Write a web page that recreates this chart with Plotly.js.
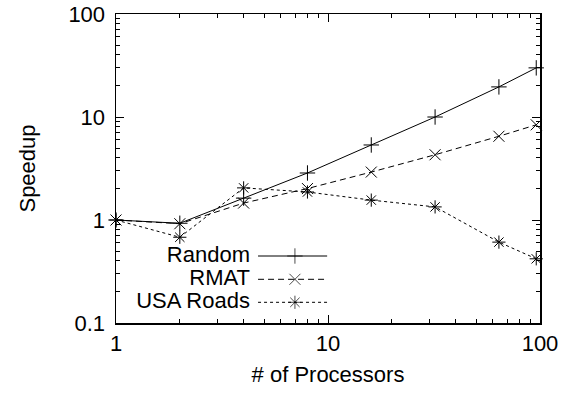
<!DOCTYPE html>
<html>
<head>
<meta charset="utf-8">
<script src="https://cdn.plot.ly/plotly-3.0.1.min.js"></script>
<style>html,body{margin:0;padding:0;background:#fff}#chart{width:566px;height:395px}</style>
</head>
<body>
<div id="chart"></div>
<script>
const processors = [1, 2, 4, 8, 16, 32, 64, 96];
const randomSpeedup = [1, 0.93, 1.63, 2.86, 5.35, 10.0, 19.6, 30.0];
const rmatSpeedup = [1, 0.92, 1.46, 2.02, 2.92, 4.3, 6.5, 8.4];
const usaRoadsSpeedup = [1, 0.68, 2.05, 1.87, 1.56, 1.34, 0.61, 0.42];
const seriesNames = ['Random', 'RMAT', 'USA Roads'];
const xTickVals = [1, 10, 100];
const xTickText = ['1', '10', '100'];
const yTickVals = [0.1, 1, 10, 100];
const yTickText = ['0.1', '1', '10', '100'];

const FONT = 'Liberation Sans, Arial, sans-serif';
const FS = 22;
const styles = [
  {dash: 'solid', symbol: 'cross-thin-open'},
  {dash: '6px,4px', symbol: 'x-thin-open'},
  {dash: '3px,3px', symbol: 'asterisk-open'}
];
const ys = [randomSpeedup, rmatSpeedup, usaRoadsSpeedup];

const traces = [];
ys.forEach((y, i) => {
  traces.push({
    x: processors, y: y, type: 'scatter', mode: 'lines+markers',
    name: seriesNames[i], showlegend: false, cliponaxis: false,
    line: {color: '#000', width: 1, dash: styles[i].dash},
    marker: {symbol: styles[i].symbol, size: 11, color: '#000', line: {color: '#000', width: 1}}
  });
});

// custom gnuplot-style legend (text left, sample right), placed in an overlaid 0..1 frame
const legRowY = [0.2168, 0.1414, 0.067];
const legX = [0.335, 0.422, 0.498];
const legTextX = 0.316;
seriesNames.forEach((n, i) => {
  traces.push({
    x: legX, y: [legRowY[i], legRowY[i], legRowY[i]], xaxis: 'x2', yaxis: 'y2',
    type: 'scatter', mode: 'lines+markers', showlegend: false, hoverinfo: 'skip',
    line: {color: '#000', width: 1, dash: styles[i].dash},
    marker: {symbol: styles[i].symbol, size: [0, 11, 0], color: '#000', line: {color: '#000', width: 1}}
  });
});
traces.push({
  x: seriesNames.map(() => legTextX), y: legRowY, xaxis: 'x2', yaxis: 'y2',
  type: 'scatter', mode: 'text', text: seriesNames, textposition: 'middle left',
  textfont: {family: FONT, size: FS, color: '#000'}, showlegend: false, hoverinfo: 'skip', cliponaxis: false
});

const axisCommon = {
  type: 'log', showgrid: false, zeroline: false, showline: true, linecolor: '#000', linewidth: 1.5,
  mirror: 'allticks', ticks: 'inside', ticklen: 8, tickwidth: 1, tickcolor: '#000',
  tickfont: {family: FONT, size: FS, color: '#000'},
  minor: {ticks: 'inside', ticklen: 4, tickwidth: 1, tickcolor: '#000', dtick: 'D1', showgrid: false}
};

const layout = {
  width: 566, height: 395,
  margin: {l: 116, r: 26, t: 14, b: 72},
  paper_bgcolor: '#fff', plot_bgcolor: '#fff',
  font: {family: FONT, size: FS, color: '#000'},
  showlegend: false,
  xaxis: Object.assign({}, axisCommon, {
    range: [0, 2], tickvals: xTickVals, ticktext: xTickText, ticklabelstandoff: 0,
    title: {text: '# of Processors', font: {family: FONT, size: FS, color: '#000'}, standoff: 11}
  }),
  yaxis: Object.assign({}, axisCommon, {
    range: [-1, 2], tickvals: yTickVals, ticktext: yTickText, ticklabelstandoff: 5,
    title: {text: 'Speedup', font: {family: FONT, size: FS, color: '#000'}, standoff: 26}
  }),
  xaxis2: {overlaying: 'x', range: [0, 1], visible: false, fixedrange: true},
  yaxis2: {overlaying: 'y', range: [0, 1], visible: false, fixedrange: true}
};

Plotly.newPlot('chart', traces, layout, {staticPlot: true, displayModeBar: false});
</script>
</body>
</html>
